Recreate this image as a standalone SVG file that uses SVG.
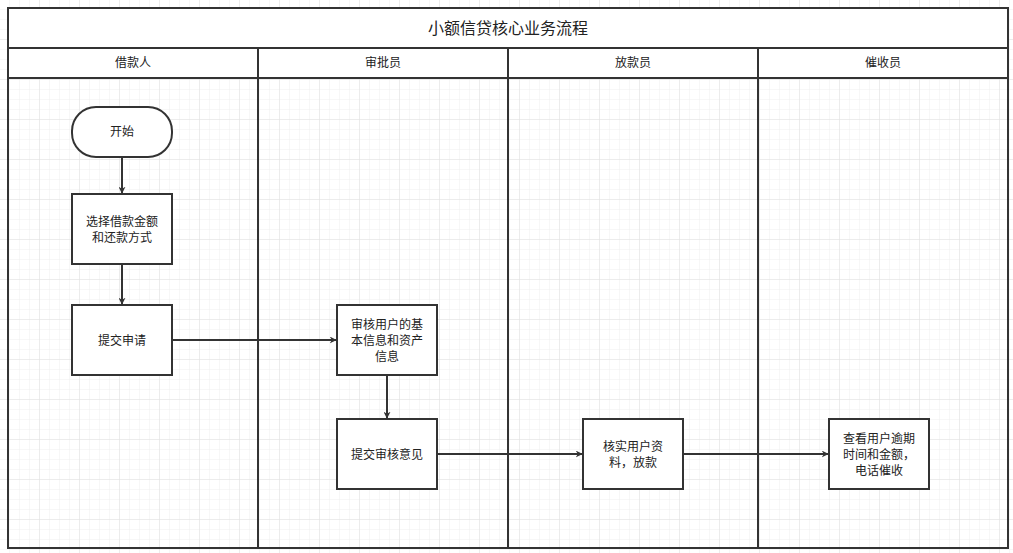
<svg xmlns="http://www.w3.org/2000/svg" width="1013" height="553" viewBox="0 0 1013 553">
<defs>
<pattern id="g" width="10" height="10" patternUnits="userSpaceOnUse"><path d="M10 0V10H0" fill="none" stroke="#efefef" stroke-width="1"/></pattern>
<pattern id="G" width="40" height="40" patternUnits="userSpaceOnUse"><rect width="40" height="40" fill="url(#g)"/><path d="M40 0V40H0" fill="none" stroke="#e2e2e2" stroke-width="1"/></pattern>
<marker id="a" viewBox="0 0 10 10" refX="9" refY="5" markerWidth="7" markerHeight="7" markerUnits="userSpaceOnUse" orient="auto"><path d="M0 0L10 5L0 10L3 5Z" fill="#333"/></marker>
<style>
.n{fill:#fff;stroke:#333;stroke-width:2}
.l{fill:none;stroke:#333;stroke-width:2}
.t{font-family:"Noto Sans CJK SC","Liberation Sans",sans-serif;font-size:12px;fill:#222;text-anchor:middle}
.c{stroke:#333;stroke-width:2;fill:none;marker-end:url(#a)}
</style>
</defs>
<rect width="1013" height="553" fill="#fff"/>
<rect width="1013" height="553" fill="url(#G)"/>
<g id="pool">
<rect x="8" y="8" width="1000" height="70" fill="#fff"/>
<rect class="l" x="8" y="8" width="1000" height="540"/>
<path class="l" d="M8 48H1008M8 78H1008M258 48V548M508 48V548M758 48V548"/>
<text class="t" x="508" y="34" style="font-size:16px">小额信贷核心业务流程</text>
<text class="t" x="133" y="67">借款人</text>
<text class="t" x="383" y="67">审批员</text>
<text class="t" x="633" y="67">放款员</text>
<text class="t" x="883" y="67">催收员</text>
</g>
<g id="connectors">
<path class="c" d="M122 157V193"/>
<path class="c" d="M122 264V304"/>
<path class="c" d="M172 340H336"/>
<path class="c" d="M387 375V418"/>
<path class="c" d="M437 454H582"/>
<path class="c" d="M683 454H828"/>
</g>
<g id="start"><rect class="n" x="72" y="107" width="100" height="50" rx="24"/><text class="t" x="122" y="136">开始</text></g>
<g id="choose"><rect class="n" x="72" y="194" width="100" height="70"/><text class="t" x="122" y="226">选择借款金额</text><text class="t" x="122" y="242">和还款方式</text></g>
<g id="submit"><rect class="n" x="72" y="305" width="100" height="70"/><text class="t" x="122" y="345">提交申请</text></g>
<g id="review"><rect class="n" x="337" y="305" width="100" height="70"/><text class="t" x="387" y="329">审核用户的基</text><text class="t" x="387" y="345">本信息和资产</text><text class="t" x="387" y="361">信息</text></g>
<g id="opinion"><rect class="n" x="337" y="419" width="100" height="70"/><text class="t" x="387" y="459">提交审核意见</text></g>
<g id="loan"><rect class="n" x="583" y="419" width="100" height="70"/><text class="t" x="633" y="451">核实用户资</text><text class="t" x="633" y="467">料，放款</text></g>
<g id="collect"><rect class="n" x="829" y="419" width="100" height="70"/><text class="t" x="879" y="443">查看用户逾期</text><text class="t" x="879" y="459">时间和金额，</text><text class="t" x="879" y="475">电话催收</text></g>
</svg>
